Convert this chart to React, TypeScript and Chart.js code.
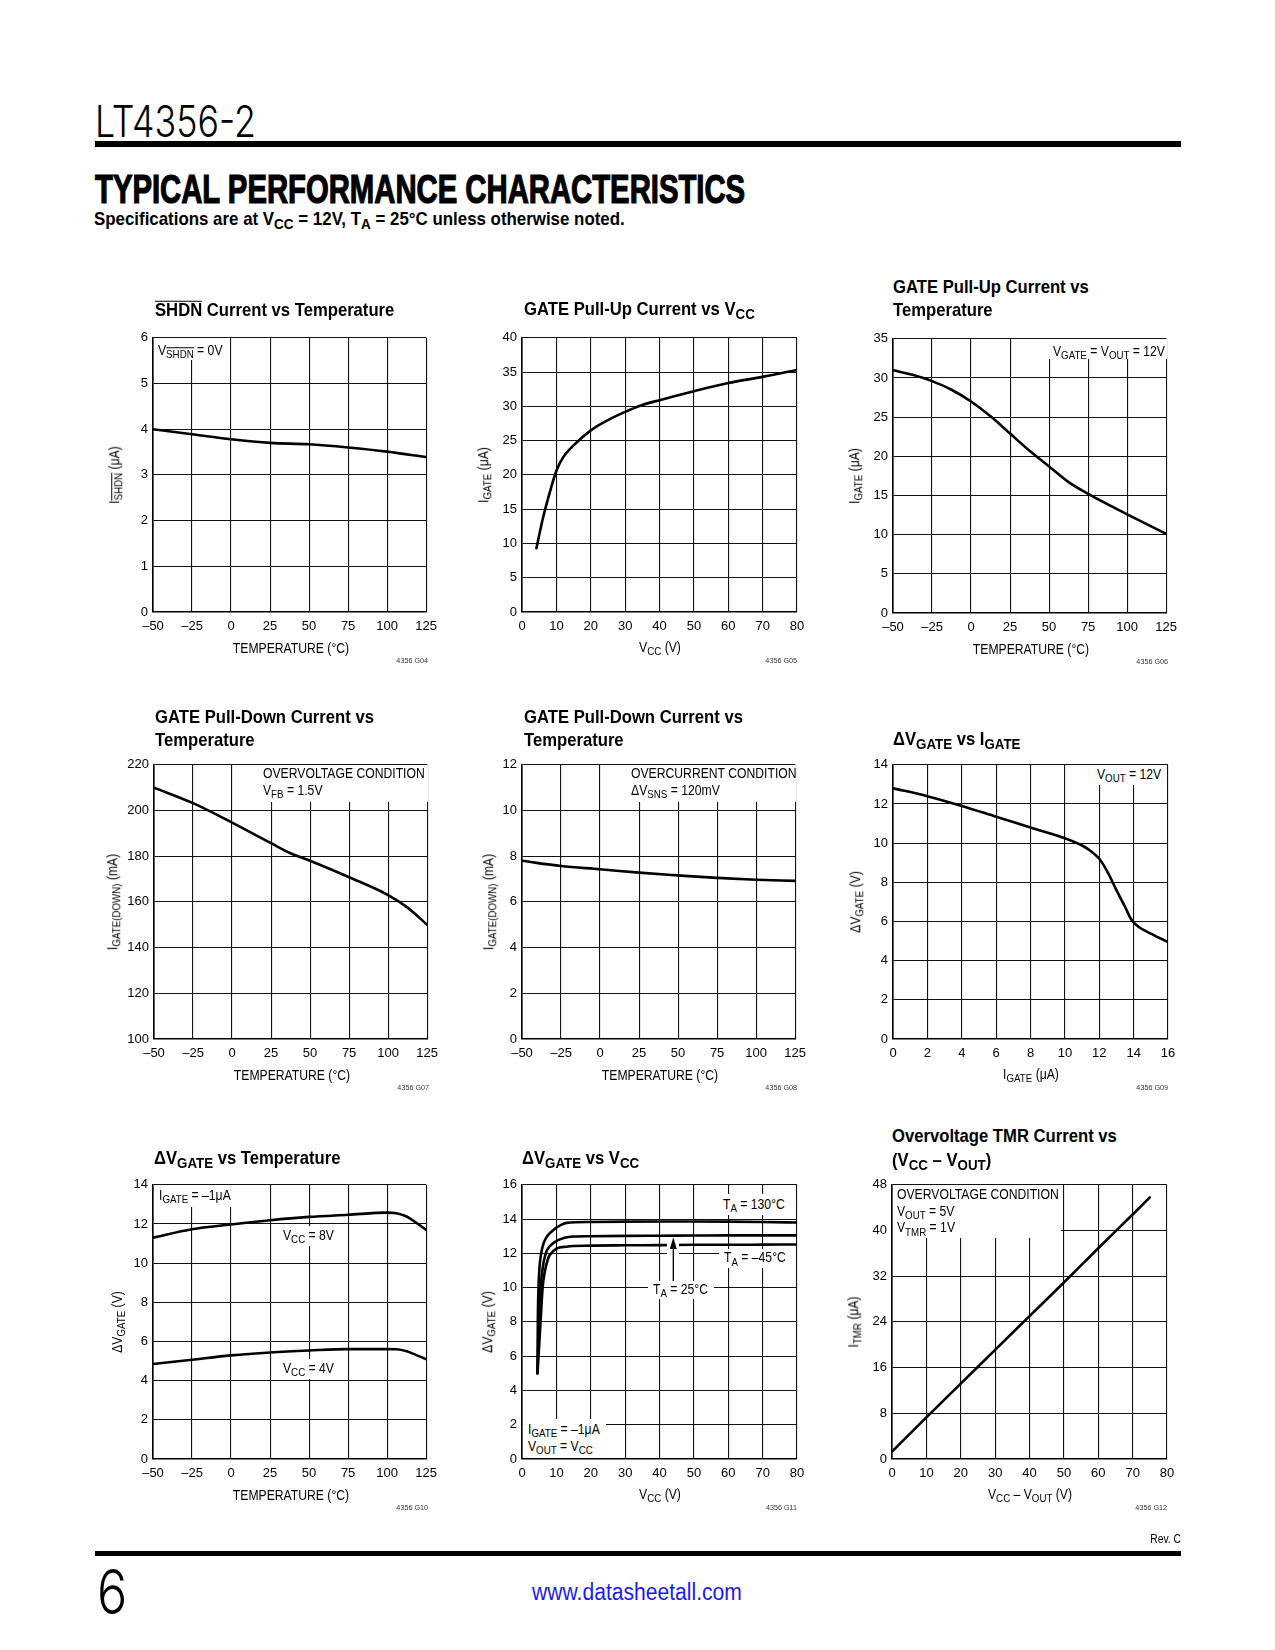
import React, { useEffect, useLayoutEffect, useRef } from 'react';
import { Chart, registerables } from 'chart.js';
Chart.register(...registerables);

const SANS = '"Liberation Sans", Arial, Helvetica, sans-serif';
const THIN = 'Inter, Lato, "Noto Sans", sans-serif';
const PW = 275, PH = 275, PL = 50, PT = 12, PR = 16, PB = 32;
const NARROW = 0.84;

// ---------- tick labels ----------
const tempTicks = [-50, -25, 0, 25, 50, 75, 100, 125];
const vccTicks = [0, 10, 20, 30, 40, 50, 60, 70, 80];
const shdnTicks = [0, 1, 2, 3, 4, 5, 6];
const pullupVccTicks = [0, 5, 10, 15, 20, 25, 30, 35, 40];
const pullupTempTicks = [0, 5, 10, 15, 20, 25, 30, 35];
const ovTicks = [100, 120, 140, 160, 180, 200, 220];
const ocTicks = [0, 2, 4, 6, 8, 10, 12];
const igateTicks = [0, 2, 4, 6, 8, 10, 12, 14, 16];
const dv14Ticks = [0, 2, 4, 6, 8, 10, 12, 14];
const dv16Ticks = [0, 2, 4, 6, 8, 10, 12, 14, 16];
const tmrTicks = [0, 8, 16, 24, 32, 40, 48];

// ---------- data ----------
// SHDN current vs temperature
const shdnTemp = [-50, -25, 0, 25, 50, 75, 100, 125];
const shdnCurrent = [4.0, 3.89, 3.78, 3.7, 3.67, 3.6, 3.51, 3.39];
// GATE pull-up current vs VCC
const pullupVcc = [4.2, 5, 6, 8, 10, 12, 15, 20, 25, 30, 35, 40, 50, 60, 70, 80];
const pullupVccCurrent = [9.3, 11.2, 13.5, 17.3, 20.6, 22.6, 24.3, 26.5, 28.0, 29.2, 30.2, 30.9, 32.2, 33.4, 34.3, 35.3];
// GATE pull-up current vs temperature
const pullupTemp = [-50, -37.5, -25, -12.5, 0, 12.5, 25, 37.5, 50, 62.5, 75, 100, 125];
const pullupTempCurrent = [31.0, 30.4, 29.6, 28.5, 27.0, 25.1, 22.9, 20.7, 18.7, 16.7, 15.2, 12.6, 10.1];
// GATE pull-down current vs temperature (overvoltage)
const ovTemp = [-50, -25, 0, 25, 37.5, 50, 75, 100, 112.5, 125];
const ovPulldown = [210, 203.2, 194.7, 185.7, 181.3, 178, 170.8, 163, 157.5, 150];
// GATE pull-down current vs temperature (overcurrent)
const ocTemp = [-50, -25, 0, 25, 50, 75, 100, 125];
const ocPulldown = [7.8, 7.57, 7.43, 7.28, 7.16, 7.05, 6.97, 6.92];
// dVGATE vs IGATE
const dvIgate = [0, 2, 4, 6, 8, 10, 11, 11.5, 12, 12.5, 13, 13.5, 13.8, 14, 14.3, 15, 16];
const dvIgateV = [12.8, 12.4, 11.9, 11.35, 10.8, 10.25, 9.88, 9.6, 9.2, 8.5, 7.6, 6.75, 6.2, 5.95, 5.72, 5.38, 4.95];
// dVGATE vs temperature
const dvTemp = [-50, -25, 0, 25, 50, 75, 100, 106, 112.5, 118, 125];
const dvTempVcc8 = [11.3, 11.73, 11.97, 12.19, 12.36, 12.47, 12.58, 12.55, 12.38, 12.1, 11.7];
const dvTempVcc4 = [4.85, 5.07, 5.29, 5.44, 5.54, 5.61, 5.61, 5.6, 5.5, 5.33, 5.1];
// dVGATE vs VCC
const dvVcc130 = [4.5, 4.6, 4.8, 5.1, 5.5, 6, 6.6, 7.5, 8.5, 10, 11.5, 13, 20, 30, 40, 50, 60, 70, 80];
const dvGate130 = [5.0, 8.0, 10.0, 11.2, 11.9, 12.4, 12.75, 13.05, 13.25, 13.5, 13.68, 13.78, 13.83, 13.85, 13.86, 13.86, 13.85, 13.83, 13.8];
const dvVcc25 = [4.5, 4.9, 5.3, 5.8, 6.3, 7.1, 8, 9.5, 12.4, 15, 20, 30, 40, 50, 60, 70, 80];
const dvGate25 = [5.0, 8.0, 9.8, 10.8, 11.5, 12.1, 12.4, 12.66, 12.91, 12.98, 13.0, 13.02, 13.03, 13.04, 13.05, 13.05, 13.05];
const dvVccM45 = [4.5, 5.4, 6.0, 6.6, 7.6, 8.1, 10, 12.9, 20, 30, 40, 50, 60, 70, 80];
const dvGateM45 = [5.0, 8.0, 10.0, 10.9, 11.7, 11.9, 12.27, 12.39, 12.45, 12.47, 12.48, 12.5, 12.5, 12.51, 12.52];
// Overvoltage TMR current vs (VCC - VOUT)
const tmrDiff = [0, 10, 20, 30, 40, 50, 60, 70, 75];
const tmrCurrent = [1.3, 7.3, 13.2, 19.1, 25.0, 30.9, 36.9, 42.8, 45.8];

// ---------- helpers ----------
let narrowCache: boolean | null = null;
function hasNarrow(): boolean {
  if (narrowCache !== null) return narrowCache;
  try {
    const ctx = document.createElement('canvas').getContext('2d')!;
    const s = 'TEMPERATURE 0123456789';
    ctx.font = '40px monospace';
    const a = ctx.measureText(s).width;
    ctx.font = '40px "Liberation Sans Narrow", monospace';
    const b = ctx.measureText(s).width;
    narrowCache = Math.abs(a - b) > 1;
  } catch (e) {
    narrowCache = false;
  }
  return narrowCache;
}

const fmt = (v: number) => (v < 0 ? '\u2013' + Math.abs(v) : String(v));

function Sub({ children }: any) {
  return <span style={{ fontSize: '0.8em', position: 'relative', top: '0.28em' }}>{children}</span>;
}
function Over({ children }: any) {
  return (
    <span style={{ position: 'relative', display: 'inline-block' }}>
      {children}
      <span style={{ position: 'absolute', left: 0, right: 0, top: '-0.02em', borderTop: '0.075em solid currentColor' }} />
    </span>
  );
}

function Txt({ x, y, anchor = 'start', size = 14.5, weight = 400, sx = NARROW, rot = false, color = '#000', family = SANS, fit, stroke, children }: any) {
  const ref = useRef<HTMLDivElement>(null);
  const tx = anchor === 'start' ? '0%' : anchor === 'middle' ? '-50%' : '-100%';
  const origin = anchor === 'start' ? 'left center' : anchor === 'middle' ? 'center center' : 'right center';
  const tf = (s: number) => `translate(${tx},-50%) ${rot ? 'rotate(-90deg) ' : ''}scaleX(${s})`;
  useLayoutEffect(() => {
    const el = ref.current;
    if (el && fit) el.style.transform = tf(fit / el.offsetWidth);
  });
  return (
    <div
      ref={ref}
      style={{
        position: 'absolute', left: x, top: y, whiteSpace: 'nowrap', fontFamily: family,
        fontSize: size, lineHeight: `${size}px`, fontWeight: weight, color,
        transformOrigin: origin, transform: tf(sx),
        WebkitTextStroke: stroke ? '1.2px #000' : undefined,
      }}
    >
      {children}
    </div>
  );
}

function Box({ r }: { r: number[] }) {
  return <div style={{ position: 'absolute', left: r[0], top: r[1], width: r[2] - r[0], height: r[3] - r[1], background: '#fff' }} />;
}

function Plot({ left, top, xTicks, yTicks, series }: any) {
  const ref = useRef<HTMLCanvasElement>(null);
  useEffect(() => {
    const narrow = hasNarrow();
    const tfont = narrow ? { family: '"Liberation Sans Narrow"', size: 15 } : { family: '"Liberation Sans"', size: 13 };
    const axis = (ticks: number[], isX: boolean) => ({
      type: 'linear',
      min: ticks[0],
      max: ticks[ticks.length - 1],
      afterBuildTicks: (s: any) => { s.ticks = ticks.map((v) => ({ value: v })); },
      afterFit: (s: any) => { if (isX) s.height = PB; else s.width = PL; },
      grid: { color: '#111', lineWidth: 1.1, drawTicks: false },
      border: { display: true, color: '#000', width: 1.6 },
      ticks: {
        autoSkip: false, maxRotation: 0, padding: isX ? 7 : 5, color: '#000',
        font: tfont, callback: (v: any) => fmt(Number(v)),
      },
    });
    const chart = new Chart(ref.current!, {
      type: 'line',
      data: {
        datasets: series.map((s: any) => ({
          data: s.x.map((xv: number, i: number) => ({ x: xv, y: s.y[i] })),
          borderColor: '#000', borderWidth: 2.6, pointRadius: 0, fill: false,
          cubicInterpolationMode: 'monotone', borderCapStyle: 'round', borderJoinStyle: 'round',
        })),
      },
      options: {
        responsive: false, animation: false, events: [],
        layout: { autoPadding: false, padding: { left: 0, top: PT, right: PR, bottom: 0 } },
        plugins: { legend: { display: false }, tooltip: { enabled: false } },
        scales: { x: axis(xTicks, true), y: axis(yTicks, false) },
      } as any,
    } as any);
    return () => chart.destroy();
  }, []);
  return (
    <canvas
      ref={ref}
      width={PL + PW + PR}
      height={PT + PH + PB}
      style={{ position: 'absolute', left: left - PL, top: top - PT, width: PL + PW + PR, height: PT + PH + PB }}
    />
  );
}

function Panel({ left, top, xTicks, yTicks, series, xTitle, yTitle, yTitleX, code }: any) {
  const bottom = top + PH;
  return (
    <>
      <Plot left={left} top={top} xTicks={xTicks} yTicks={yTicks} series={series} />
      <Txt x={left + PW / 2} y={bottom + 35.5} anchor="middle">{xTitle}</Txt>
      <Txt x={yTitleX} y={top + PH / 2} anchor="middle" rot>{yTitle}</Txt>
      <Txt x={left + PW} y={bottom + 49} anchor="end" size={8} sx={0.9} color="#333">{code}</Txt>
    </>
  );
}

function Title({ x, y, children }: any) {
  return <Txt x={x} y={y} size={18.5} weight={700} sx={0.9}>{children}</Txt>;
}

export default function App() {
  const TEMP = 'TEMPERATURE (\u00B0C)';
  return (
    <div style={{ position: 'absolute', left: 0, top: 0, width: 1275, height: 1650, background: '#fff', overflow: 'hidden', fontFamily: SANS }}>
      {/* header */}
      <Txt x={95} y={121} size={44} family={THIN} weight={300} fit={161}>LT4356-2</Txt>
      <div style={{ position: 'absolute', left: 95, top: 141, width: 1086, height: 5.5, background: '#000' }} />
      <Txt x={95} y={188.5} size={40} weight={900} fit={650} stroke>TYPICAL PERFORMANCE CHARACTERISTICS</Txt>
      <Txt x={94} y={219.5} size={18.5} weight={700} fit={531}>
        Specifications are at V<Sub>CC</Sub> = 12V, T<Sub>A</Sub> = 25°C unless otherwise noted.
      </Txt>

      {/* row 1 */}
      <Panel left={153} top={337} xTicks={tempTicks} yTicks={shdnTicks}
        series={[{ x: shdnTemp, y: shdnCurrent }]}
        xTitle={TEMP} yTitle={<>I<Sub><Over>SHDN</Over></Sub> (μA)</>} yTitleX={115} code="4356 G04" />
      <Panel left={522} top={337} xTicks={vccTicks} yTicks={pullupVccTicks}
        series={[{ x: pullupVcc, y: pullupVccCurrent }]}
        xTitle={<>V<Sub>CC</Sub> (V)</>} yTitle={<>I<Sub>GATE</Sub> (μA)</>} yTitleX={484} code="4356 G05" />
      <Panel left={893} top={338} xTicks={tempTicks} yTicks={pullupTempTicks}
        series={[{ x: pullupTemp, y: pullupTempCurrent }]}
        xTitle={TEMP} yTitle={<>I<Sub>GATE</Sub> (μA)</>} yTitleX={855} code="4356 G06" />

      {/* row 2 */}
      <Panel left={154} top={764} xTicks={tempTicks} yTicks={ovTicks}
        series={[{ x: ovTemp, y: ovPulldown }]}
        xTitle={TEMP} yTitle={<>I<Sub>GATE(DOWN)</Sub> (mA)</>} yTitleX={113} code="4356 G07" />
      <Panel left={522} top={764} xTicks={tempTicks} yTicks={ocTicks}
        series={[{ x: ocTemp, y: ocPulldown }]}
        xTitle={TEMP} yTitle={<>I<Sub>GATE(DOWN)</Sub> (mA)</>} yTitleX={489} code="4356 G08" />
      <Panel left={893} top={764} xTicks={igateTicks} yTicks={dv14Ticks}
        series={[{ x: dvIgate, y: dvIgateV }]}
        xTitle={<>I<Sub>GATE</Sub> (μA)</>} yTitle={<>ΔV<Sub>GATE</Sub> (V)</>} yTitleX={856} code="4356 G09" />

      {/* row 3 */}
      <Panel left={153} top={1184} xTicks={tempTicks} yTicks={dv14Ticks}
        series={[{ x: dvTemp, y: dvTempVcc8 }, { x: dvTemp, y: dvTempVcc4 }]}
        xTitle={TEMP} yTitle={<>ΔV<Sub>GATE</Sub> (V)</>} yTitleX={118} code="4356 G10" />
      <Panel left={522} top={1184} xTicks={vccTicks} yTicks={dv16Ticks}
        series={[{ x: dvVcc130, y: dvGate130 }, { x: dvVcc25, y: dvGate25 }, { x: dvVccM45, y: dvGateM45 }]}
        xTitle={<>V<Sub>CC</Sub> (V)</>} yTitle={<>ΔV<Sub>GATE</Sub> (V)</>} yTitleX={487.5} code="4356 G11" />
      <Panel left={892} top={1184} xTicks={vccTicks} yTicks={tmrTicks}
        series={[{ x: tmrDiff, y: tmrCurrent }]}
        xTitle={<>V<Sub>CC</Sub> – V<Sub>OUT</Sub> (V)</>} yTitle={<>I<Sub>TMR</Sub> (μA)</>} yTitleX={854} code="4356 G12" />

      {/* white label boxes */}
      <Box r={[154, 338, 229, 360]} />
      <Box r={[1043, 339, 1167, 358.5]} />
      <Box r={[259, 765, 428, 801.5]} />
      <Box r={[627, 765, 796, 801.5]} />
      <Box r={[1093, 765, 1167, 785]} />
      <Box r={[154, 1185, 236, 1207]} />
      <Box r={[279, 1226, 338, 1246]} />
      <Box r={[279, 1359, 338, 1379]} />
      <Box r={[719, 1194, 796, 1215]} />
      <Box r={[719, 1249, 796, 1268]} />
      <Box r={[648, 1281, 714, 1299]} />
      <Box r={[523, 1419, 606, 1458]} />
      <Box r={[893, 1185, 1061, 1238]} />

      {/* arrow for TA = 25°C */}
      <svg style={{ position: 'absolute', left: 0, top: 0, overflow: 'visible' }} width={1} height={1}>
        <rect x={667} y={1239} width={12} height={42} fill="#fff" />
        <line x1={673.3} y1={1281} x2={673.3} y2={1247} stroke="#000" strokeWidth={1.3} />
        <polygon points="673.3,1237.3 669.8,1249 676.8,1249" fill="#000" />
      </svg>

      {/* chart titles */}
      <Title x={155} y={310}><Over>SHDN</Over> Current vs Temperature</Title>
      <Title x={523.5} y={310}>GATE Pull-Up Current vs V<Sub>CC</Sub></Title>
      <Title x={892.5} y={287.3}>GATE Pull-Up Current vs</Title>
      <Title x={892.5} y={310}>Temperature</Title>
      <Title x={155} y={717.3}>GATE Pull-Down Current vs</Title>
      <Title x={155} y={740}>Temperature</Title>
      <Title x={524} y={717.3}>GATE Pull-Down Current vs</Title>
      <Title x={524} y={740}>Temperature</Title>
      <Title x={893} y={740}>ΔV<Sub>GATE</Sub> vs I<Sub>GATE</Sub></Title>
      <Title x={153.5} y={1159}>ΔV<Sub>GATE</Sub> vs Temperature</Title>
      <Title x={522} y={1159}>ΔV<Sub>GATE</Sub> vs V<Sub>CC</Sub></Title>
      <Title x={892} y={1136}>Overvoltage TMR Current vs</Title>
      <Title x={892} y={1161}>(V<Sub>CC</Sub> – V<Sub>OUT</Sub>)</Title>

      {/* annotations */}
      <Txt x={158} y={350.7}>V<Sub><Over>SHDN</Over></Sub> = 0V</Txt>
      <Txt x={1165} y={351.5} anchor="end">V<Sub>GATE</Sub> = V<Sub>OUT</Sub> = 12V</Txt>
      <Txt x={263} y={773}>OVERVOLTAGE CONDITION</Txt>
      <Txt x={263} y={791}>V<Sub>FB</Sub> = 1.5V</Txt>
      <Txt x={630.7} y={773}>OVERCURRENT CONDITION</Txt>
      <Txt x={630.7} y={791}>ΔV<Sub>SNS</Sub> = 120mV</Txt>
      <Txt x={1096.7} y={775}>V<Sub>OUT</Sub> = 12V</Txt>
      <Txt x={159} y={1196}>I<Sub>GATE</Sub> = –1μA</Txt>
      <Txt x={283} y={1235.7}>V<Sub>CC</Sub> = 8V</Txt>
      <Txt x={283} y={1369}>V<Sub>CC</Sub> = 4V</Txt>
      <Txt x={723} y={1205}>T<Sub>A</Sub> = 130°C</Txt>
      <Txt x={724} y={1258.3}>T<Sub>A</Sub> = –45°C</Txt>
      <Txt x={653} y={1290}>T<Sub>A</Sub> = 25°C</Txt>
      <Txt x={527.7} y={1430}>I<Sub>GATE</Sub> = –1μA</Txt>
      <Txt x={527.7} y={1447}>V<Sub>OUT</Sub> = V<Sub>CC</Sub></Txt>
      <Txt x={897.3} y={1194}>OVERVOLTAGE CONDITION</Txt>
      <Txt x={897.3} y={1211.7}>V<Sub>OUT</Sub> = 5V</Txt>
      <Txt x={897.3} y={1228.3}>V<Sub>TMR</Sub> = 1V</Txt>

      {/* footer */}
      <Txt x={1181} y={1538.5} anchor="end" size={12} sx={0.86}>Rev. C</Txt>
      <div style={{ position: 'absolute', left: 95, top: 1550.5, width: 1086, height: 5.5, background: '#000' }} />
      <Txt x={97} y={1591.5} size={62} family={THIN} weight={300} fit={30}>6</Txt>
      <Txt x={637} y={1592} anchor="middle" size={23} fit={210} color="#1a1aee">www.datasheetall.com</Txt>
    </div>
  );
}
